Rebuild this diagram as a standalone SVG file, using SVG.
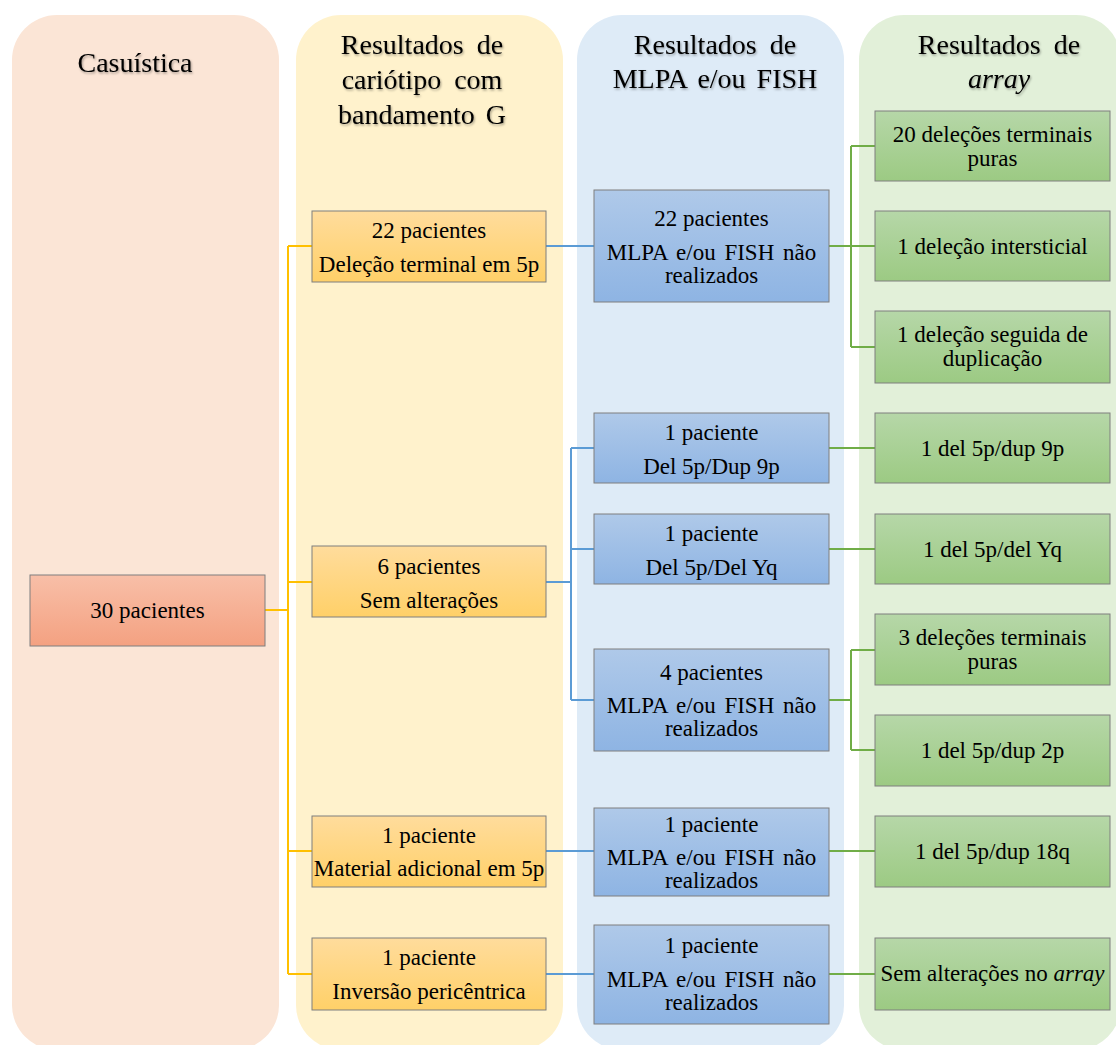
<svg xmlns="http://www.w3.org/2000/svg" width="1116" height="1045" viewBox="0 0 1116 1045">
<style>
.hdr{font-family:"Liberation Serif","Times New Roman",serif;font-size:28px;fill:#000;text-anchor:middle;filter:url(#glow)}
.t{font-family:"Liberation Serif","Times New Roman",serif;font-size:23px;fill:#000;text-anchor:middle}
.box{stroke:#7f7f7f;stroke-width:1}
.y{fill:none;stroke:#FFC000;stroke-width:2}
.b{fill:none;stroke:#5B9BD5;stroke-width:2}
.g{fill:none;stroke:#70AD47;stroke-width:2}
</style>
<defs>
<linearGradient id="gR" x1="0" y1="0" x2="0" y2="1"><stop offset="0" stop-color="#F8BFA8"/><stop offset="1" stop-color="#F4A181"/></linearGradient>
<linearGradient id="gO" x1="0" y1="0" x2="0" y2="1"><stop offset="0" stop-color="#FFDC9C"/><stop offset="1" stop-color="#FFD068"/></linearGradient>
<linearGradient id="gB" x1="0" y1="0" x2="0" y2="1"><stop offset="0" stop-color="#AFC9E9"/><stop offset="1" stop-color="#8EB4E3"/></linearGradient>
<linearGradient id="gG" x1="0" y1="0" x2="0" y2="1"><stop offset="0" stop-color="#B6D7A8"/><stop offset="1" stop-color="#9CCA83"/></linearGradient>
<filter id="glow" x="-10%" y="-20%" width="120%" height="140%"><feDropShadow dx="1" dy="1.5" stdDeviation="1.2" flood-color="#000" flood-opacity="0.35"/></filter>
</defs>
<rect width="1116" height="1045" fill="#fff"/>
<g id="lanes">
<rect x="12" y="15" width="267" height="1035" rx="45" fill="#FBE5D6"/>
<rect x="296" y="15" width="267" height="1035" rx="45" fill="#FFF2CC"/>
<rect x="577" y="15" width="267" height="1035" rx="45" fill="#DEEBF7"/>
<rect x="859" y="15" width="262" height="1035" rx="45" fill="#E2F0D9"/>
</g>
<g id="headers">
<text class="hdr" x="135" y="72">Casuística</text>
<text class="hdr" x="422" y="54" word-spacing="6">Resultados de</text>
<text class="hdr" x="422" y="89" word-spacing="6">cariótipo com</text>
<text class="hdr" x="422" y="124" word-spacing="4">bandamento G</text>
<text class="hdr" x="715" y="54" word-spacing="6">Resultados de</text>
<text class="hdr" x="715" y="88" word-spacing="4">MLPA e/ou FISH</text>
<text class="hdr" x="999" y="54" word-spacing="6">Resultados de</text>
<text class="hdr" x="999" y="88" font-style="italic">array</text>
</g>
<g id="connectors">
<path class="y" d="M265 610H288M288 246V974M288 246H312M288 582H312M288 851H312M288 974H312"/>
<path class="b" d="M546 246H594M546 582H571M571 448V700M571 448H594M571 549H594M571 700H594M546 851H594M546 974H594"/>
<path class="g" d="M829 246H851M851 146V347M851 146H875M851 246H875M851 347H875M829 448H875M829 549H875M829 700H851M851 650V750M851 650H875M851 750H875M829 851H875M829 974H875"/>
</g>
<g id="n30"><rect class="box" x="30" y="575" width="235" height="71" fill="url(#gR)"/><text class="t" x="147.5" y="618">30 pacientes</text></g>
<g id="o22"><rect class="box" x="312" y="211" width="234" height="71" fill="url(#gO)"/><text class="t" x="429" y="238">22 pacientes</text><text class="t" x="429" y="272">Deleção terminal em 5p</text></g>
<g id="o6"><rect class="box" x="312" y="546" width="234" height="71" fill="url(#gO)"/><text class="t" x="429" y="574">6 pacientes</text><text class="t" x="429" y="608">Sem alterações</text></g>
<g id="o1a"><rect class="box" x="312" y="816" width="234" height="71" fill="url(#gO)"/><text class="t" x="429" y="843">1 paciente</text><text class="t" x="429" y="876">Material adicional em 5p</text></g>
<g id="o1b"><rect class="box" x="312" y="938" width="234" height="72" fill="url(#gO)"/><text class="t" x="429" y="965">1 paciente</text><text class="t" x="429" y="999">Inversão pericêntrica</text></g>
<g id="b22"><rect class="box" x="594" y="190" width="235" height="112" fill="url(#gB)"/><text class="t" x="711.5" y="226">22 pacientes</text><text class="t" x="711.5" y="260" word-spacing="3">MLPA e/ou FISH não</text><text class="t" x="711.5" y="283">realizados</text></g>
<g id="b9p"><rect class="box" x="594" y="413" width="235" height="70" fill="url(#gB)"/><text class="t" x="711.5" y="440">1 paciente</text><text class="t" x="711.5" y="474">Del 5p/Dup 9p</text></g>
<g id="bYq"><rect class="box" x="594" y="514" width="235" height="70" fill="url(#gB)"/><text class="t" x="711.5" y="541">1 paciente</text><text class="t" x="711.5" y="575">Del 5p/Del Yq</text></g>
<g id="b4"><rect class="box" x="594" y="649" width="235" height="102" fill="url(#gB)"/><text class="t" x="711.5" y="680">4 pacientes</text><text class="t" x="711.5" y="713" word-spacing="3">MLPA e/ou FISH não</text><text class="t" x="711.5" y="736">realizados</text></g>
<g id="b1a"><rect class="box" x="594" y="808" width="235" height="88" fill="url(#gB)"/><text class="t" x="711.5" y="832">1 paciente</text><text class="t" x="711.5" y="865" word-spacing="3">MLPA e/ou FISH não</text><text class="t" x="711.5" y="888">realizados</text></g>
<g id="b1b"><rect class="box" x="594" y="925" width="235" height="99" fill="url(#gB)"/><text class="t" x="711.5" y="953">1 paciente</text><text class="t" x="711.5" y="987" word-spacing="3">MLPA e/ou FISH não</text><text class="t" x="711.5" y="1010">realizados</text></g>
<g id="g20"><rect class="box" x="875" y="111" width="235" height="70" fill="url(#gG)"/><text class="t" x="992.5" y="142">20 deleções terminais</text><text class="t" x="992.5" y="166">puras</text></g>
<g id="gint"><rect class="box" x="875" y="211" width="235" height="70" fill="url(#gG)"/><text class="t" x="992.5" y="254">1 deleção intersticial</text></g>
<g id="gdd"><rect class="box" x="875" y="311" width="235" height="72" fill="url(#gG)"/><text class="t" x="992.5" y="342">1 deleção seguida de</text><text class="t" x="992.5" y="366">duplicação</text></g>
<g id="g9p"><rect class="box" x="875" y="413" width="235" height="70" fill="url(#gG)"/><text class="t" x="992.5" y="456">1 del 5p/dup 9p</text></g>
<g id="gYq"><rect class="box" x="875" y="514" width="235" height="70" fill="url(#gG)"/><text class="t" x="992.5" y="557">1 del 5p/del Yq</text></g>
<g id="g3"><rect class="box" x="875" y="614" width="235" height="71" fill="url(#gG)"/><text class="t" x="992.5" y="645">3 deleções terminais</text><text class="t" x="992.5" y="669">puras</text></g>
<g id="g2p"><rect class="box" x="875" y="715" width="235" height="71" fill="url(#gG)"/><text class="t" x="992.5" y="758">1 del 5p/dup 2p</text></g>
<g id="g18q"><rect class="box" x="875" y="816" width="235" height="71" fill="url(#gG)"/><text class="t" x="992.5" y="859">1 del 5p/dup 18q</text></g>
<g id="gsem"><rect class="box" x="875" y="938" width="235" height="72" fill="url(#gG)"/><text class="t" x="992.5" y="981">Sem alterações no <tspan font-style="italic">array</tspan></text></g>
</svg>
